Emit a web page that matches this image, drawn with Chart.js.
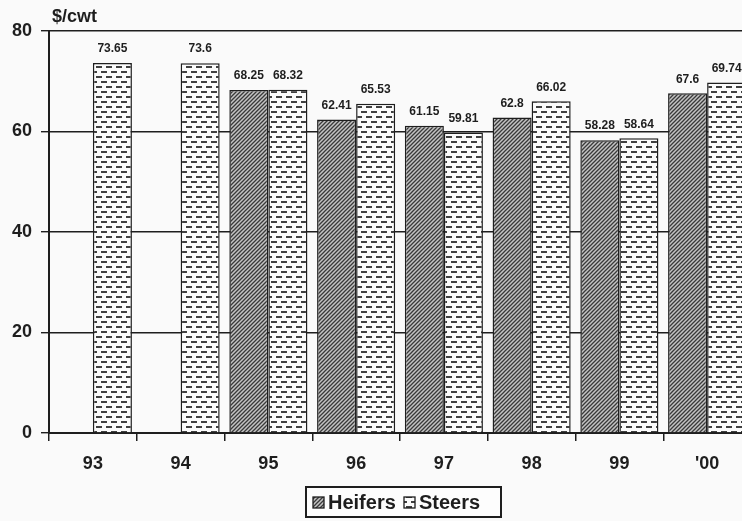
<!DOCTYPE html>
<html>
<head>
<meta charset="utf-8">
<script src="https://cdn.jsdelivr.net/npm/chart.js@4/dist/chart.umd.min.js"></script>
<style>
  html, body { margin: 0; padding: 0; background: #fafafa; overflow: hidden; }
  #wrap { width: 742px; height: 521px; overflow: hidden; position: relative; }
  canvas { display: block; }
</style>
</head>
<body>
<div id="wrap"><canvas id="c" width="760" height="521"></canvas></div>
<script>
// Average prices, $/cwt
const years   = ['93', '94', '95', '96', '97', '98', '99', "'00"];
const heifers = [null, null, 68.25, 62.41, 61.15, 62.8, 58.28, 67.6];
const steers  = [73.65, 73.6, 68.32, 65.53, 59.81, 66.02, 58.64, 69.74];
const yTicks  = [0, 20, 40, 60, 80];
const seriesNames = ['Heifers', 'Steers'];
const unitLabel = '$/cwt';

const FONT = '"Liberation Sans", Arial, sans-serif';
const INK = '#1e1e1e';

// Diagonal hatch fill
function hatchPattern() {
  const s = 4;
  const t = document.createElement('canvas');
  t.width = s; t.height = s;
  const g = t.getContext('2d');
  g.fillStyle = '#c4c4c4';
  g.fillRect(0, 0, s, s);
  g.strokeStyle = '#3a3a3a';
  g.lineWidth = 1.3;
  g.beginPath();
  g.moveTo(-1, s + 1); g.lineTo(s + 1, -1);
  g.moveTo(-1, 1); g.lineTo(1, -1);
  g.moveTo(s - 1, s + 1); g.lineTo(s + 1, s - 1);
  g.stroke();
  return g.createPattern(t, 'repeat');
}

// Staggered dash fill
function dashPattern() {
  const w = 10, h = 10;
  const t = document.createElement('canvas');
  t.width = w; t.height = h;
  const g = t.getContext('2d');
  g.fillStyle = '#fbfbfb';
  g.fillRect(0, 0, w, h);
  g.fillStyle = '#404040';
  g.fillRect(1, 1, 6, 2);
  g.fillRect(6, 6, 4, 2);
  g.fillRect(0, 6, 2, 2);
  return g.createPattern(t, 'repeat');
}

const fills = [hatchPattern(), dashPattern()];

// Value labels above each bar
const valueLabels = {
  id: 'valueLabels',
  afterDatasetsDraw(chart) {
    const ctx = chart.ctx;
    ctx.save();
    ctx.font = 'bold 12px ' + FONT;
    ctx.fillStyle = INK;
    ctx.textAlign = 'center';
    ctx.textBaseline = 'middle';
    chart.data.datasets.forEach((ds, i) => {
      chart.getDatasetMeta(i).data.forEach((el, j) => {
        const v = ds.data[j];
        if (v == null) return;
        ctx.fillText(String(v), el.x, el.y - 14);
      });
    });
    ctx.restore();
  }
};

// Unit caption and boxed legend
const decorations = {
  id: 'decorations',
  afterDraw(chart) {
    const ctx = chart.ctx;
    ctx.save();
    ctx.fillStyle = INK;
    ctx.font = 'bold 18px ' + FONT;
    ctx.textAlign = 'left';
    ctx.textBaseline = 'middle';
    ctx.fillText(unitLabel, 52, 17);

    // legend frame
    const bx = 306, by = 487, bw = 195, bh = 30;
    ctx.fillStyle = '#fdfdfd';
    ctx.fillRect(bx, by, bw, bh);
    ctx.strokeStyle = INK;
    ctx.lineWidth = 2;
    ctx.strokeRect(bx, by, bw, bh);

    const items = [
      { sw: 313, tx: 328 },
      { sw: 404, tx: 419 }
    ];
    ctx.font = 'bold 20px ' + FONT;
    items.forEach((it, i) => {
      ctx.fillStyle = fills[i];
      ctx.fillRect(it.sw, 497, 11, 11);
      ctx.strokeStyle = INK;
      ctx.lineWidth = 1.3;
      ctx.strokeRect(it.sw, 497, 11, 11);
      ctx.fillStyle = INK;
      ctx.fillText(seriesNames[i], it.tx, 503);
    });
    ctx.restore();
  }
};

new Chart(document.getElementById('c'), {
  type: 'bar',
  data: {
    labels: years,
    datasets: [
      { label: seriesNames[0], data: heifers, backgroundColor: fills[0],
        borderColor: INK, borderWidth: 1.5, categoryPercentage: 0.89, barPercentage: 1 },
      { label: seriesNames[1], data: steers, backgroundColor: fills[1],
        borderColor: INK, borderWidth: 1.5, categoryPercentage: 0.89, barPercentage: 1 }
    ]
  },
  options: {
    responsive: false,
    animation: false,
    layout: { padding: { top: 31, right: 9, left: 0, bottom: 0 } },
    plugins: { legend: { display: false }, tooltip: { enabled: false } },
    scales: {
      x: {
        offset: true,
        grid: { offset: true, drawOnChartArea: false, color: INK, lineWidth: 1.5, tickLength: 8 },
        border: { color: INK, width: 2 },
        ticks: { color: INK, font: { family: FONT, size: 18, weight: 'bold' }, padding: 12, maxRotation: 0 },
        afterFit(s) { s.height = 88; }
      },
      y: {
        min: 0, max: 80,
        afterBuildTicks(s) { s.ticks = yTicks.map(v => ({ value: v })); },
        grid: { color: INK, lineWidth: 1.4, tickLength: 8 },
        border: { color: INK, width: 2 },
        ticks: { color: INK, font: { family: FONT, size: 18, weight: 'bold' }, padding: 9 },
        afterFit(s) { s.width = 49; }
      }
    }
  },
  plugins: [valueLabels, decorations]
});
</script>
</body>
</html>
